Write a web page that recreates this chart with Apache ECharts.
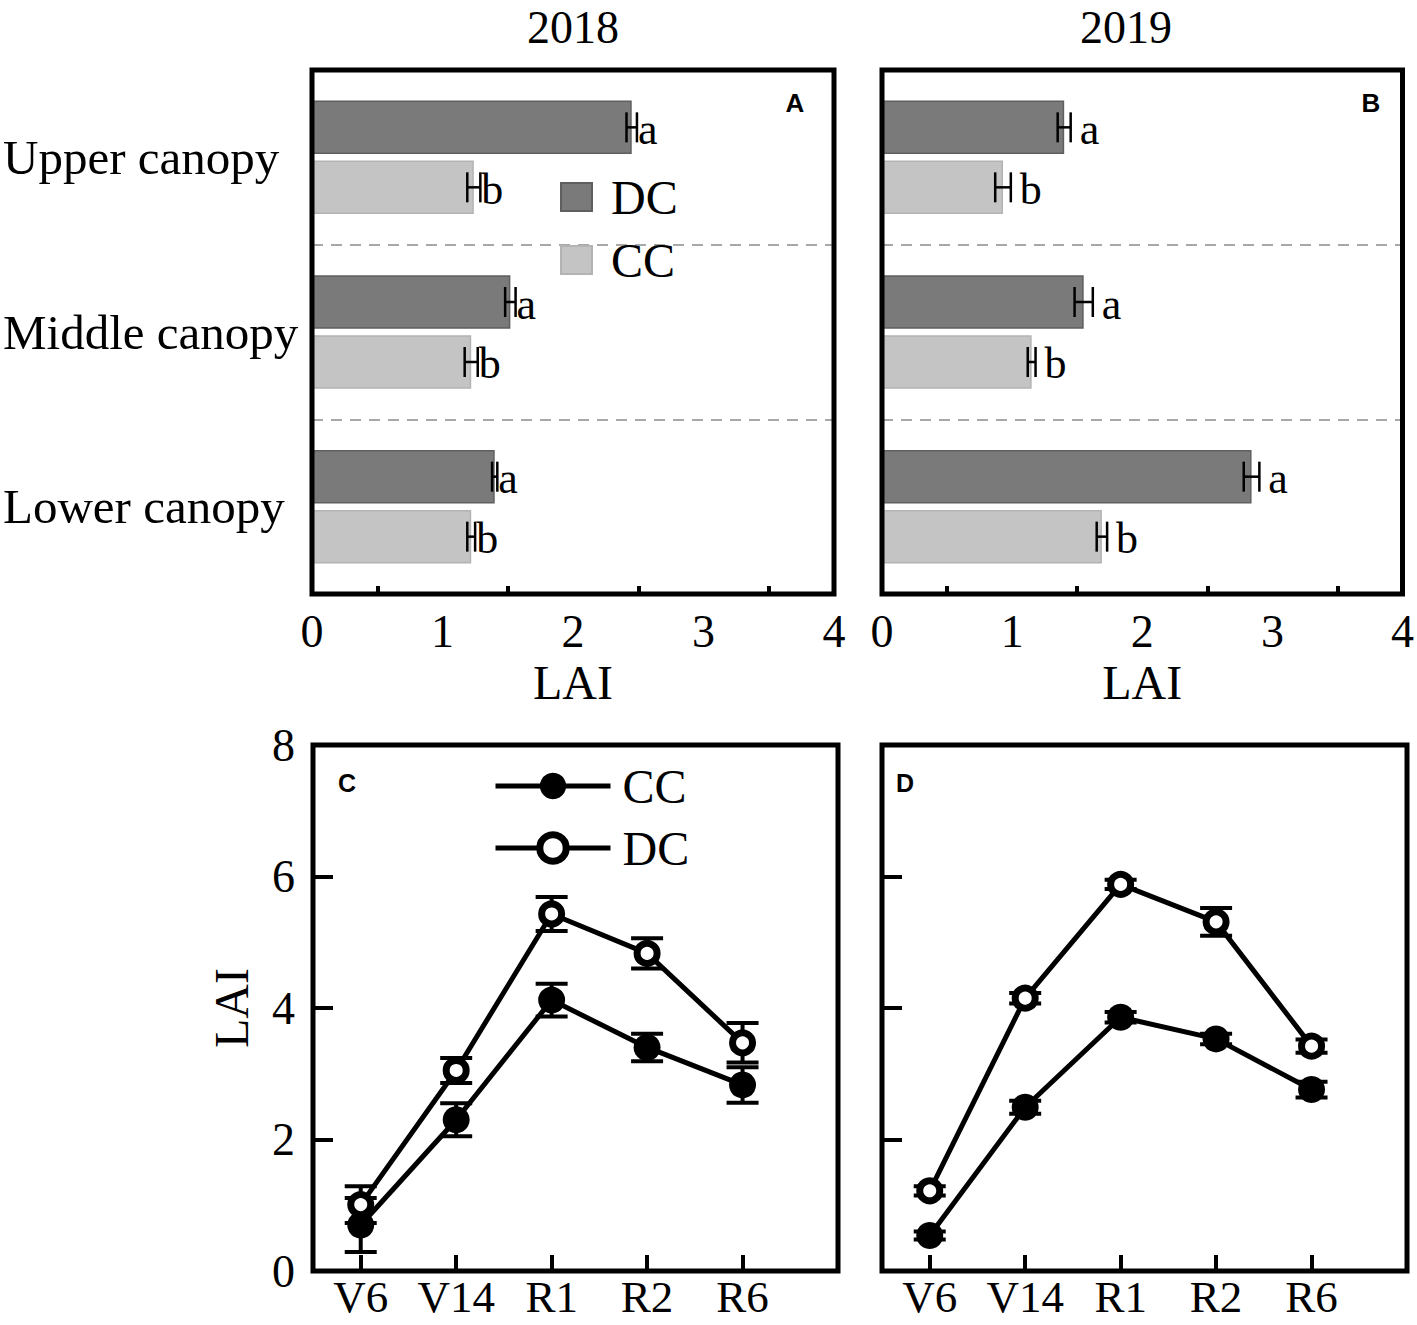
<!DOCTYPE html>
<html><head><meta charset="utf-8">
<script src="https://cdn.jsdelivr.net/npm/echarts@6/dist/echarts.min.js"></script>
<style>html,body{margin:0;padding:0;background:#fff}#c{width:1417px;height:1325px}</style>
</head><body><div id="c"></div>
<script>
// ---- data ----
const canopyLayers = ['Upper canopy', 'Middle canopy', 'Lower canopy'];
const lai2018DC = [2.45, 1.52, 1.40];
const lai2018DCErr = [0.04, 0.04, 0.02];
const lai2018CC = [1.24, 1.22, 1.22];
const lai2018CCErr = [0.05, 0.05, 0.03];
const lai2019DC = [1.40, 1.55, 2.84];
const lai2019DCErr = [0.05, 0.07, 0.06];
const lai2019CC = [0.93, 1.15, 1.69];
const lai2019CCErr = [0.06, 0.03, 0.04];
const lettersDC = ['a', 'a', 'a'];
const lettersCC = ['b', 'b', 'b'];

const stages = ['V6', 'V14', 'R1', 'R2', 'R6'];
const dyn2018CC = [0.70, 2.30, 4.12, 3.40, 2.83];
const dyn2018CCErr = [0.41, 0.25, 0.25, 0.21, 0.27];
const dyn2018DC = [1.01, 3.05, 5.43, 4.83, 3.47];
const dyn2018DCErr = [0.28, 0.19, 0.26, 0.23, 0.30];
const dyn2019CC = [0.54, 2.49, 3.86, 3.53, 2.76];
const dyn2019CCErr = [0.06, 0.10, 0.08, 0.08, 0.12];
const dyn2019DC = [1.22, 4.15, 5.88, 5.31, 3.42];
const dyn2019DCErr = [0.07, 0.08, 0.07, 0.21, 0.10];

const laiTicks = [0, 1, 2, 3, 4];
const yearTitles = ['2018', '2019'];
const panelLetters = ['A', 'B', 'C', 'D'];

// ---- styles ----
const SERIF = 'Liberation Serif';
const SANS = 'Liberation Sans';
const CAT_GAP = 0.35, BAR_GAP = 0.12;
const DC_FILL = '#7a7a7a', DC_BORDER = '#5f5f5f';
const CC_FILL = '#c4c4c4', CC_BORDER = '#b3b3b3';

const chart = echarts.init(document.getElementById('c'), null, {renderer: 'svg'});

function barErr(g, vals, errs, letters, slot, letterGap) {
  return {
    type: 'custom', xAxisIndex: g, yAxisIndex: g, z: 5, silent: true,
    data: vals.map((v, i) => [v, i, errs[i]]),
    renderItem: (params, api) => {
      const v = api.value(0), i = api.value(1), e = api.value(2);
      const band = api.size([0, 1])[1];
      const w = band * (1 - CAT_GAP) / (2 + BAR_GAP);
      const off = (slot === 0 ? -1 : 1) * w * (1 + BAR_GAP) / 2;
      const y = api.coord([v, i])[1] + off;
      const x1 = api.coord([v - e, i])[0], x2 = api.coord([v + e, i])[0];
      const h = 15;
      const st = {stroke: '#000', lineWidth: 2.5};
      return {type: 'group', children: [
        {type: 'line', shape: {x1: x1, y1: y, x2: x2, y2: y}, style: st},
        {type: 'line', shape: {x1: x1, y1: y - h, x2: x1, y2: y + h}, style: st},
        {type: 'line', shape: {x1: x2, y1: y - h, x2: x2, y2: y + h}, style: st},
        {type: 'text', x: x2 + letterGap, y: y + 2,
         style: {text: letters[params.dataIndex], fontSize: 44, fontFamily: SERIF, fill: '#000', align: 'left', verticalAlign: 'middle'}}
      ]};
    }
  };
}

function lineErr(g, vals, errs) {
  return {
    type: 'custom', xAxisIndex: g, yAxisIndex: g, z: 1, silent: true,
    data: vals.map((v, i) => [i, v, errs[i]]),
    renderItem: (params, api) => {
      const i = api.value(0), v = api.value(1), e = api.value(2);
      const x = api.coord([i, v])[0];
      const yt = api.coord([i, v + e])[1], yb = api.coord([i, v - e])[1];
      const hw = 16;
      const st = {stroke: '#000', lineWidth: 4};
      return {type: 'group', children: [
        {type: 'line', shape: {x1: x, y1: yt, x2: x, y2: yb}, style: st},
        {type: 'line', shape: {x1: x - hw, y1: yt, x2: x + hw, y2: yt}, style: st},
        {type: 'line', shape: {x1: x - hw, y1: yb, x2: x + hw, y2: yb}, style: st}
      ]};
    }
  };
}

function barSeries(g, name, vals, fill, border) {
  return {
    type: 'bar', name: name, xAxisIndex: g, yAxisIndex: g,
    data: vals, barCategoryGap: (CAT_GAP * 100) + '%', barGap: (BAR_GAP * 100) + '%',
    itemStyle: {color: fill, borderColor: border, borderWidth: 1.5}, z: 3
  };
}

function lineSeries(g, name, vals, open) {
  return {
    type: 'line', name: name, xAxisIndex: g, yAxisIndex: g, z: 3,
    data: vals.map((v, i) => [i, v]),
    symbol: 'circle', symbolSize: open ? 20 : 27,
    lineStyle: {color: '#000', width: 5},
    itemStyle: open ? {color: '#fff', borderColor: '#000', borderWidth: 7} : {color: '#000', borderColor: '#000', borderWidth: 0}
  };
}

const gridBase = {show: true, borderColor: '#000', borderWidth: 5, backgroundColor: 'transparent', z: 10};
const tickStyle = {color: '#000', width: 4};
const labelText = {color: '#000', fontFamily: SERIF};

function laiXAxis(g) {
  return {
    gridIndex: g, type: 'value', min: laiTicks[0], max: laiTicks[laiTicks.length - 1], interval: 1,
    axisLine: {show: false},
    axisTick: {inside: true, length: 19, lineStyle: tickStyle},
    minorTick: {show: true, splitNumber: 2, length: 8, lineStyle: tickStyle},
    splitLine: {show: false},
    axisLabel: Object.assign({fontSize: 46, margin: 14}, labelText),
    name: 'LAI', nameLocation: 'middle', nameGap: 64,
    nameTextStyle: Object.assign({fontSize: 48}, labelText)
  };
}
function canopyYAxis(g, showLabels) {
  return {
    gridIndex: g, type: 'category', inverse: true, data: canopyLayers,
    axisLine: {show: false}, axisTick: {show: false},
    axisLabel: Object.assign({show: showLabels, align: 'left', margin: 309, fontSize: 49}, labelText),
    splitLine: {show: true, lineStyle: {color: '#a8a8a8', width: 2, type: [11, 8]}}
  };
}
function stageXAxis(g) {
  return {
    gridIndex: g, type: 'value', min: -0.5, max: 5,
    axisLine: {show: false, onZero: false},
    axisTick: {inside: true, length: 16, lineStyle: tickStyle, customValues: stages.map((s, i) => i)},
    splitLine: {show: false},
    axisLabel: Object.assign({fontSize: 45, lineHeight: 44, margin: 4, customValues: stages.map((s, i) => i),
      formatter: v => stages[Math.round(v)]}, labelText)
  };
}
function dynYAxis(g, showLabels) {
  const a = {
    gridIndex: g, type: 'value', min: 0, max: 8, interval: 2,
    axisLine: {show: false, onZero: false},
    axisTick: {inside: true, length: 20, lineStyle: tickStyle},
    splitLine: {show: false},
    axisLabel: Object.assign({show: showLabels, fontSize: 46, margin: 18}, labelText)
  };
  if (showLabels) {
    a.name = 'LAI'; a.nameLocation = 'middle'; a.nameGap = 58; a.nameRotate = 90;
    a.nameTextStyle = Object.assign({fontSize: 48}, labelText);
  }
  return a;
}

const option = {
  animation: false,
  backgroundColor: '#fff',
  grid: [
    Object.assign({left: 311, top: 70, width: 523, height: 524}, gridBase),
    Object.assign({left: 882, top: 70, width: 524, height: 524}, gridBase),
    Object.assign({left: 313, top: 745, width: 525, height: 526}, gridBase),
    Object.assign({left: 882, top: 745, width: 525, height: 526}, gridBase)
  ],
  xAxis: [laiXAxis(0), laiXAxis(1), stageXAxis(2), stageXAxis(3)],
  yAxis: [canopyYAxis(0, true), canopyYAxis(1, false), dynYAxis(2, true), dynYAxis(3, false)],
  legend: [
    {data: ['DC', 'CC'], orient: 'vertical', left: 560, top: 173, padding: 0,
     itemWidth: 31, itemHeight: 28, itemGap: 15,
     icon: 'rect', selectedMode: false,
     textStyle: {fontSize: 48, fontFamily: SERIF, color: '#000', padding: [0, 0, 0, 14]}},
    {data: ['CC·dyn', {name: 'DC·dyn', itemStyle: {borderWidth: 7}}], orient: 'vertical', left: 493, top: 762, padding: 0,
     itemWidth: 115, itemHeight: 33, itemGap: 14,
     lineStyle: {width: 5, color: '#000'},
     selectedMode: false, formatter: n => n.split('·')[0],
     textStyle: {fontSize: 48, fontFamily: SERIF, color: '#000', padding: [0, 0, 0, 7]}}
  ],
  series: [
    barSeries(0, 'DC', lai2018DC, DC_FILL, DC_BORDER),
    barSeries(0, 'CC', lai2018CC, CC_FILL, CC_BORDER),
    barErr(0, lai2018DC, lai2018DCErr, lettersDC, 0, 1),
    barErr(0, lai2018CC, lai2018CCErr, lettersCC, 1, 1),
    barSeries(1, 'DC', lai2019DC, DC_FILL, DC_BORDER),
    barSeries(1, 'CC', lai2019CC, CC_FILL, CC_BORDER),
    barErr(1, lai2019DC, lai2019DCErr, lettersDC, 0, 9),
    barErr(1, lai2019CC, lai2019CCErr, lettersCC, 1, 9),
    lineErr(2, dyn2018CC, dyn2018CCErr),
    lineErr(2, dyn2018DC, dyn2018DCErr),
    lineSeries(2, 'CC·dyn', dyn2018CC, false),
    lineSeries(2, 'DC·dyn', dyn2018DC, true),
    lineErr(3, dyn2019CC, dyn2019CCErr),
    lineErr(3, dyn2019DC, dyn2019DCErr),
    lineSeries(3, 'CC·dyn', dyn2019CC, false),
    lineSeries(3, 'DC·dyn', dyn2019DC, true)
  ],
  graphic: [
    {type: 'text', x: 573, y: 4, style: {text: yearTitles[0], fontSize: 46, lineHeight: 46, fontFamily: SERIF, fill: '#000', align: 'center', verticalAlign: 'top'}},
    {type: 'text', x: 1126, y: 4, style: {text: yearTitles[1], fontSize: 46, lineHeight: 46, fontFamily: SERIF, fill: '#000', align: 'center', verticalAlign: 'top'}},
    {type: 'text', x: 795, y: 103, style: {text: panelLetters[0], fontSize: 26, fontWeight: 'bold', fontFamily: SANS, fill: '#000', align: 'center', verticalAlign: 'middle'}},
    {type: 'text', x: 1371, y: 103, style: {text: panelLetters[1], fontSize: 26, fontWeight: 'bold', fontFamily: SANS, fill: '#000', align: 'center', verticalAlign: 'middle'}},
    {type: 'text', x: 347, y: 783, style: {text: panelLetters[2], fontSize: 25, fontWeight: 'bold', fontFamily: SANS, fill: '#000', align: 'center', verticalAlign: 'middle'}},
    {type: 'text', x: 905, y: 783, style: {text: panelLetters[3], fontSize: 25, fontWeight: 'bold', fontFamily: SANS, fill: '#000', align: 'center', verticalAlign: 'middle'}}
  ]
};
chart.setOption(option);
</script></body></html>
